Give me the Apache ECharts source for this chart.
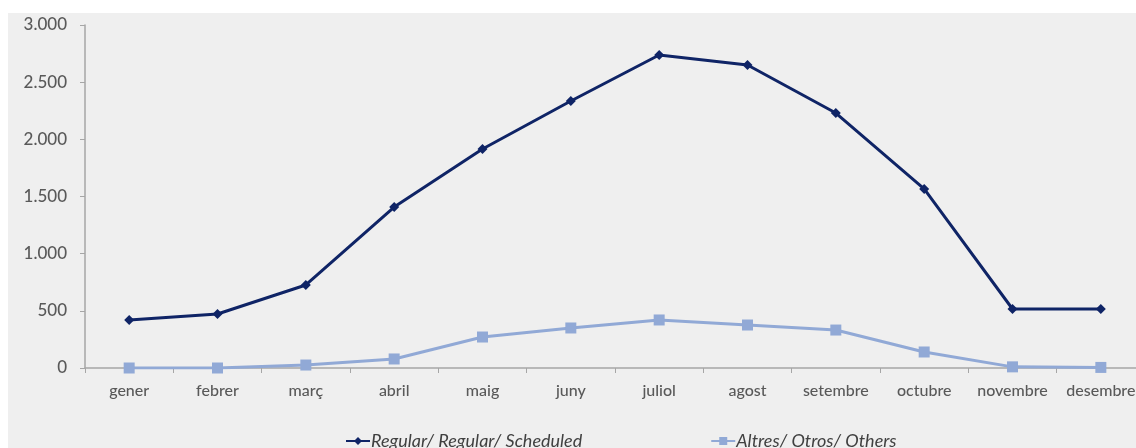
<!DOCTYPE html>
<html>
<head>
<meta charset="utf-8">
<script src="https://cdn.jsdelivr.net/npm/echarts@6/dist/echarts.min.js"></script>
<style>
    html, body { margin: 0; padding: 0; background: #ffffff; }
    #chart { width: 1136px; height: 448px; }
</style>
</head>
<body>
<div id="chart"></div>
<script>
// mesos i valors llegits del gràfic
const months = ['gener', 'febrer', 'març', 'abril', 'maig', 'juny', 'juliol', 'agost', 'setembre', 'octubre', 'novembre', 'desembre']
const regular = [420, 472, 726, 1408, 1915, 2335, 2738, 2650, 2230, 1566, 516, 516]
const others = [0, 0, 26, 79, 271, 350, 420, 376, 332, 140, 10, 5]
const seriesNames = ['Regular/ Regular/ Scheduled', 'Altres/ Otros/ Others']

const fontFamily = 'Lato, "DejaVu Sans", sans-serif'
const axisGray = '#a6a6a6'

let chart = echarts.init(document.getElementById('chart'))
chart.setOption({
    animation: false,
    graphic: [{
        type: 'rect',
        z: -10,
        shape: { x: 8, y: 13, width: 1136, height: 448 },
        style: { fill: '#efefef' }
    }],
    legend: {
        bottom: -7,
        left: 340,
        itemGap: 128,
        itemWidth: 24,
        itemHeight: 10,
        textStyle: {
            fontFamily,
            fontSize: 18,
            fontStyle: 'italic',
            color: '#404040',
            padding: [0, 0, 0, -4]
        },
        data: seriesNames
    },
    grid: {
        left: 85,
        top: 25,
        width: 1060,
        height: 343,
        outerBoundsMode: 'none'
    },
    xAxis: {
        type: 'category',
        data: months,
        boundaryGap: true,
        axisLine: { lineStyle: { color: axisGray, width: 1.5 } },
        axisTick: { show: true, length: 5, lineStyle: { color: axisGray } },
        axisLabel: {
            interval: 0,
            margin: 15,
            fontFamily,
            fontSize: 16,
            fontWeight: 500,
            color: '#595959'
        }
    },
    yAxis: {
        type: 'value',
        min: 0,
        max: 3000,
        interval: 500,
        splitLine: { show: false },
        axisLine: { show: true, lineStyle: { color: axisGray, width: 1.5 } },
        axisTick: { show: true, length: 5, lineStyle: { color: axisGray } },
        axisLabel: {
            margin: 18,
            fontFamily,
            fontSize: 17,
            fontWeight: 500,
            color: '#595959',
            formatter: v => v >= 1000 ? Math.floor(v / 1000) + '.' + String(v % 1000).padStart(3, '0') : String(v)
        }
    },
    series: [{
        name: seriesNames[0],
        type: 'line',
        data: regular,
        symbol: 'diamond',
        symbolSize: 10,
        itemStyle: { color: '#0f2466' },
        lineStyle: { color: '#0f2466', width: 3 },
        z: 3
    }, {
        name: seriesNames[1],
        type: 'line',
        data: others,
        symbol: 'rect',
        symbolSize: 11,
        itemStyle: { color: '#91a9d6' },
        lineStyle: { color: '#91a9d6', width: 3 },
        z: 2
    }]
})
</script>
</body>
</html>
